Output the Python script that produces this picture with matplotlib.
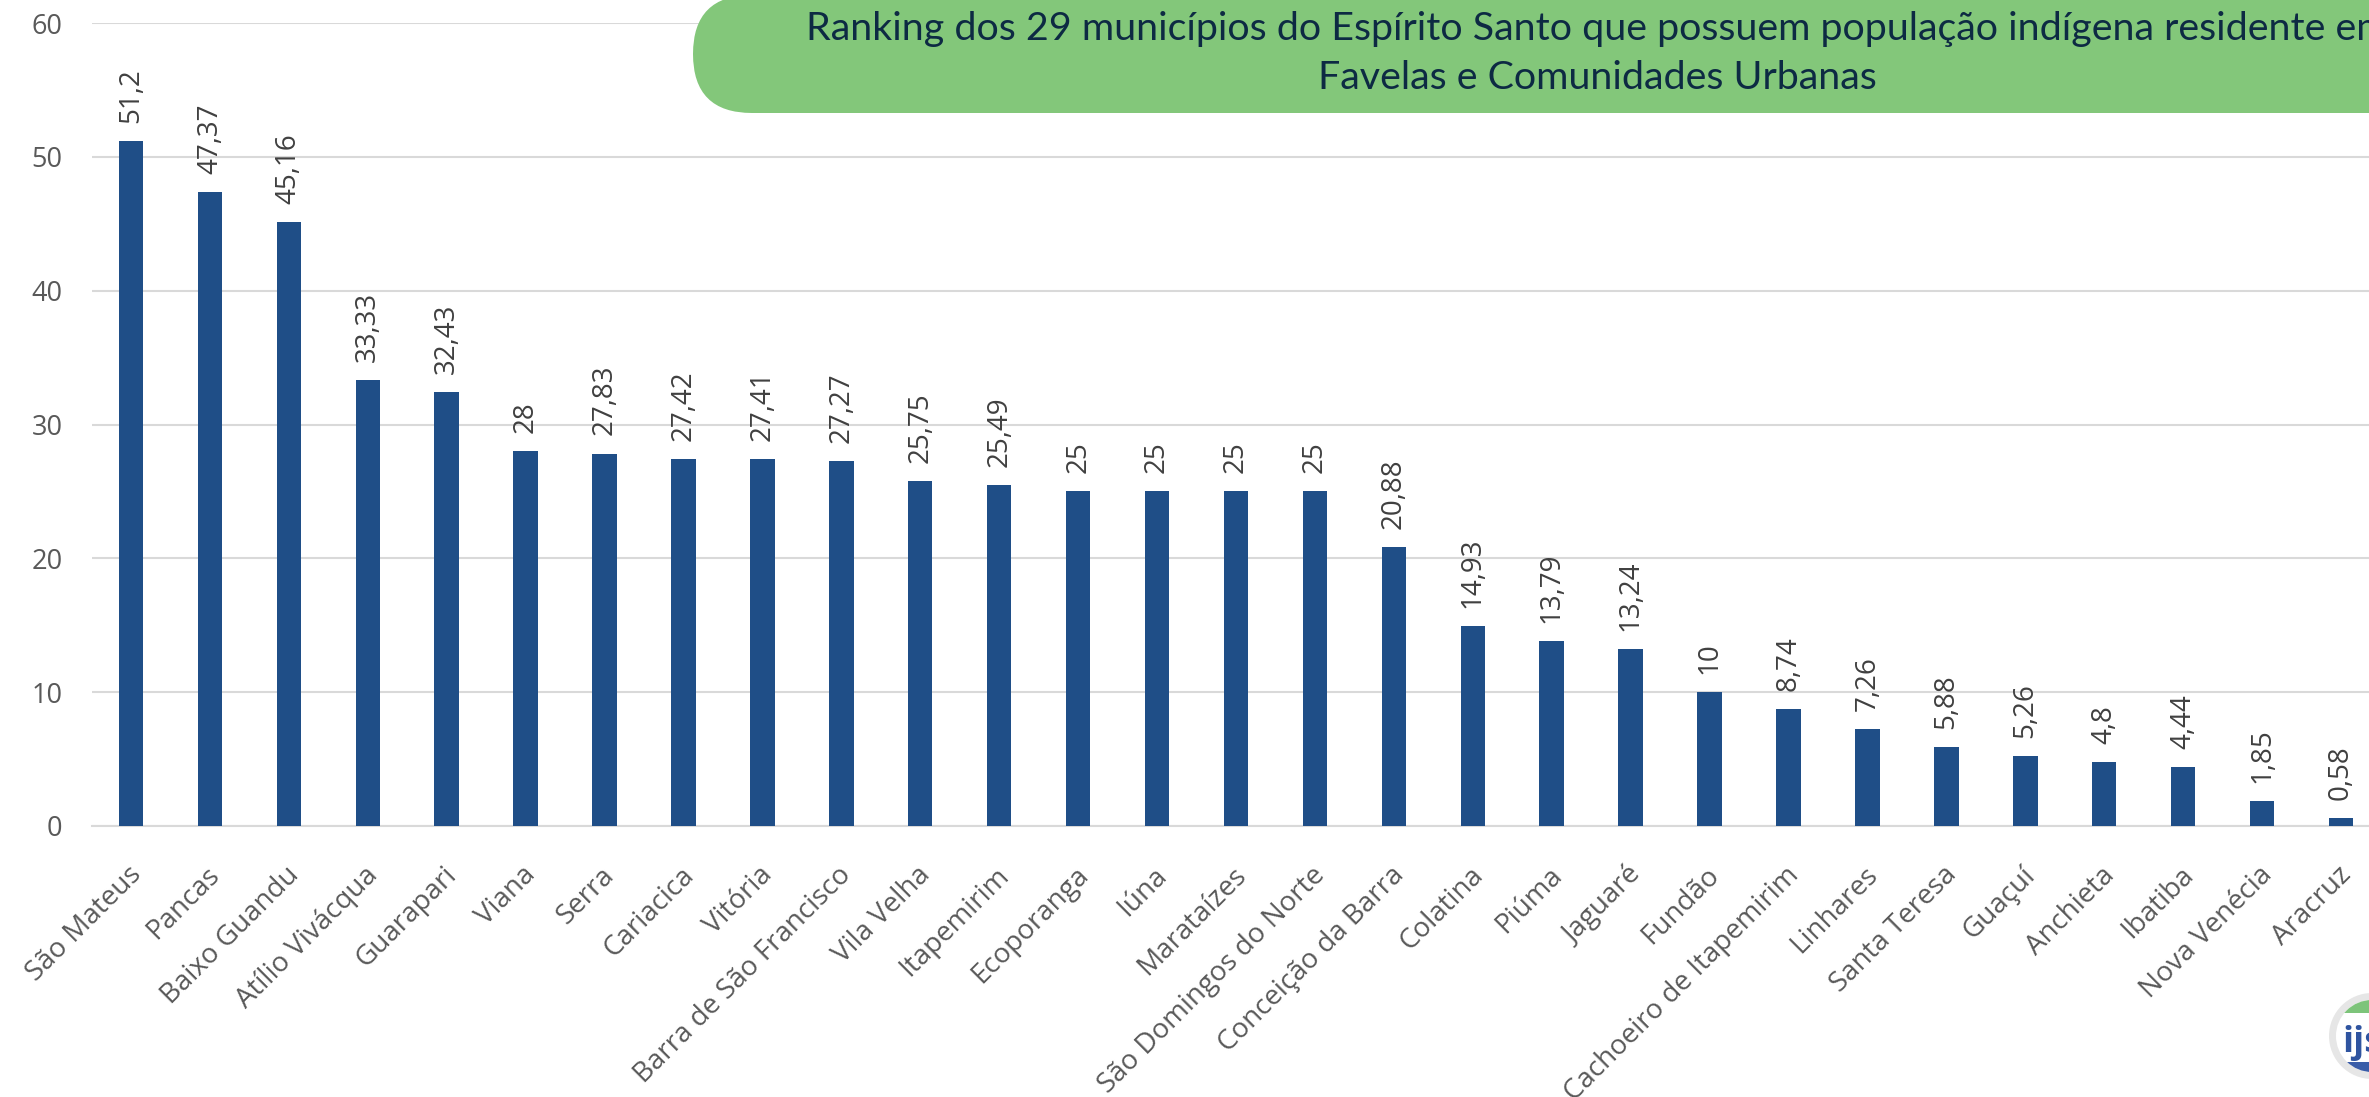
import matplotlib
matplotlib.use("Agg")
import matplotlib.pyplot as plt
from matplotlib.patches import Circle, FancyBboxPatch, Rectangle
from matplotlib.transforms import ScaledTranslation

municipios = [
    "São Mateus", "Pancas", "Baixo Guandu", "Atílio Vivácqua", "Guarapari",
    "Viana", "Serra", "Cariacica", "Vitória", "Barra de São Francisco",
    "Vila Velha", "Itapemirim", "Ecoporanga", "Iúna", "Marataízes",
    "São Domingos do Norte", "Conceição da Barra", "Colatina", "Piúma",
    "Jaguaré", "Fundão", "Cachoeiro de Itapemirim", "Linhares",
    "Santa Teresa", "Guaçuí", "Anchieta", "Ibatiba", "Nova Venécia", "Aracruz",
]
valores = [
    51.2, 47.37, 45.16, 33.33, 32.43, 28, 27.83, 27.42, 27.41, 27.27,
    25.75, 25.49, 25, 25, 25, 25, 20.88, 14.93, 13.79, 13.24,
    10, 8.74, 7.26, 5.88, 5.26, 4.8, 4.44, 1.85, 0.58,
]
yticks = [0, 10, 20, 30, 40, 50, 60]
titulo_l1 = ("Ranking dos 29 municípios do Espírito Santo que possuem "
             "população indígena residente em")
titulo_l2 = "Favelas e Comunidades Urbanas"

AZUL = "#1F4E87"
CINZA_GRADE = "#D9D9D9"
CINZA_TEXTO = "#595959"

W, H = 2369, 1097
fig = plt.figure(figsize=(W / 100, H / 100), dpi=100)

# eixo principal (passa um pouco da borda direita, como no original)
passo = 78.93
ax = fig.add_axes([91.5 / W, (H - 826) / H, 29 * passo / W, (826 - 23) / H])
pos = list(range(len(valores)))
ax.bar(pos, valores, width=0.31, color=AZUL, zorder=3)
ax.set_xlim(-0.5, len(valores) - 0.5)
ax.set_ylim(0, 60)
ax.set_yticks(yticks)
ax.yaxis.grid(True, color=CINZA_GRADE, linewidth=1.5, zorder=0)
for lado in ["top", "right", "left"]:
    ax.spines[lado].set_visible(False)
ax.spines["bottom"].set_color(CINZA_GRADE)
ax.spines["bottom"].set_linewidth(1.5)
ax.tick_params(axis="y", length=0, pad=21, labelsize=19.5, labelcolor=CINZA_TEXTO)
ax.tick_params(axis="x", length=0, pad=36)
for lbl in ax.get_yticklabels():
    lbl.set_family("Open Sans")

ax.set_xticks(pos)
ax.set_xticklabels(municipios, rotation=45, ha="right", va="baseline",
                   rotation_mode="anchor", fontsize=20, color=CINZA_TEXTO,
                   family="Open Sans")
desloc = ScaledTranslation(11 / 100, 0, fig.dpi_scale_trans)
for lbl in ax.get_xticklabels():
    lbl.set_transform(lbl.get_transform() + desloc)

# rótulos de valor
for i, v in zip(pos, valores):
    txt = f"{v:g}".replace(".", ",")
    ax.annotate(txt, (i, v), xytext=(0, 13), textcoords="offset points",
                rotation=90, ha="center", va="bottom", fontsize=20,
                color="#404040", family="Open Sans")

# camada em pixels para título e logo
ov = fig.add_axes([0, 0, 1, 1], zorder=5)
ov.set_xlim(0, W)
ov.set_ylim(H, 0)
ov.axis("off")

caixa = FancyBboxPatch((693, -5), 2100, 118,
                       boxstyle="round,pad=0,rounding_size=59",
                       fc="#83C77A", ec="none")
ov.add_patch(caixa)

t1 = ov.text(1597, 40, titulo_l1, ha="center", va="baseline", fontsize=28,
             family="Lato", color="#0D2A43")
fig.canvas.draw()
larg = t1.get_window_extent().width
fs = 28 * 1585 / larg
t1.set_fontsize(fs)
ov.text(1597, 89, titulo_l2, ha="center", va="baseline", fontsize=fs,
        family="Lato", color="#0D2A43")

# logo parcial no canto inferior direito
ov.add_patch(Circle((2372, 1036), 43, fc="#E6E6E6", ec="none"))
miolo = Circle((2372, 1036), 36, fc="white", ec="none")
ov.add_patch(miolo)
verde = Rectangle((2320, 990), 120, 23, fc="#7DC47A", ec="none")
azul = Rectangle((2320, 1062), 120, 25, fc="#3A5DA8", ec="none")
for p in (verde, azul):
    ov.add_patch(p)
    p.set_clip_path(miolo)
logo = ov.text(2342, 1052, "ijsn", fontsize=26, fontweight="bold",
               color="#2F54A0", family="Open Sans", va="baseline")
logo.set_clip_path(miolo)

fig.savefig("out.png", dpi=100)
